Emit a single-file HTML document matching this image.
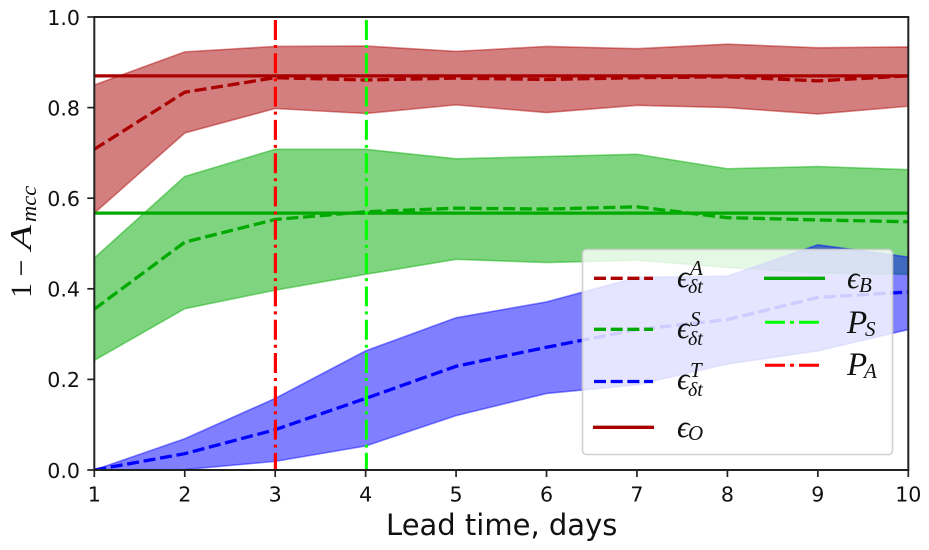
<!DOCTYPE html>
<html>
<head>
<meta charset="utf-8">
<style>
html,body{margin:0;padding:0;background:#fff;width:929px;height:550px;overflow:hidden}
svg{display:block}
text{font-family:"DejaVu Sans","Liberation Sans",sans-serif;fill:#111}
.m{font-family:"Liberation Serif","DejaVu Serif",serif;font-style:italic}
</style>
</head>
<body>
<svg id="chart" width="929" height="550" viewBox="0 0 929 550" xmlns="http://www.w3.org/2000/svg"></svg>
<script>
var leadDays = [1,2,3,4,5,6,7,8,9,10];
var yTicks = [0,0.2,0.4,0.6,0.8,1];
var yTickLabels = ['0.0','0.2','0.4','0.6','0.8','1.0'];
var meanA = [0.708,0.834,0.866,0.861,0.865,0.862,0.866,0.868,0.859,0.870];
var upperA = [0.850,0.923,0.935,0.936,0.924,0.935,0.930,0.940,0.932,0.934];
var lowerA = [0.567,0.744,0.798,0.787,0.806,0.789,0.805,0.800,0.786,0.803];
var meanS = [0.355,0.503,0.553,0.570,0.578,0.576,0.581,0.557,0.552,0.548];
var upperS = [0.468,0.648,0.708,0.708,0.687,0.692,0.697,0.665,0.670,0.663];
var lowerS = [0.242,0.356,0.397,0.432,0.465,0.458,0.463,0.447,0.435,0.432];
var meanT = [0.000,0.036,0.089,0.158,0.229,0.271,0.310,0.332,0.381,0.393];
var upperT = [0.000,0.069,0.158,0.263,0.336,0.371,0.425,0.428,0.497,0.470];
var lowerT = [0.000,0.001,0.019,0.053,0.120,0.169,0.188,0.234,0.263,0.310];
var baselineO = 0.870;
var baselineB = 0.567;
var persistS = 4;
var persistA = 3;
var vlineTop = 0.9934;

var svg = document.getElementById('chart');
var NS = 'http://www.w3.org/2000/svg';
var L = 94.3, R = 908.3, T = 17, B = 470;
function xs(v){ return L + (v - 1) / 9 * (R - L); }
function ys(v){ return B - v * (B - T); }
function mk(tag, attrs, parent){
  var e = document.createElementNS(NS, tag);
  for (var k in attrs) e.setAttribute(k, attrs[k]);
  (parent || svg).appendChild(e);
  return e;
}
function linePts(vals){
  return vals.map(function(v, i){ return xs(leadDays[i]).toFixed(2) + ',' + ys(v).toFixed(2); }).join(' ');
}
function bandPts(up, lo){
  var a = up.map(function(v, i){ return xs(leadDays[i]).toFixed(2) + ',' + ys(v).toFixed(2); });
  var b = lo.map(function(v, i){ return xs(leadDays[i]).toFixed(2) + ',' + ys(v).toFixed(2); }).reverse();
  return a.concat(b).join(' ');
}
var el;

var defs = mk('defs', {});
var cp = mk('clipPath', {id: 'plot-clip'}, defs);
mk('rect', {x: L, y: T, width: R - L, height: B - T}, cp);
var plot = mk('g', {'clip-path': 'url(#plot-clip)'});



// bands
el = mk('polygon', {points: bandPts(upperA, lowerA), fill: '#aa0000', 'fill-opacity': 0.5, stroke: '#aa0000', 'stroke-opacity': 0.45, 'stroke-width': 1.6}, plot);


el = mk('polygon', {points: bandPts(upperS, lowerS), fill: '#00aa00', 'fill-opacity': 0.5, stroke: '#00aa00', 'stroke-opacity': 0.45, 'stroke-width': 1.6}, plot);


el = mk('polygon', {points: bandPts(upperT, lowerT), fill: '#0000ff', 'fill-opacity': 0.5, stroke: '#0000ff', 'stroke-opacity': 0.45, 'stroke-width': 1.6}, plot);



// mean lines
el = mk('polyline', {points: linePts(meanA), fill: 'none', stroke: '#aa0000', 'stroke-width': 3.3, 'stroke-dasharray': '12 4.7'}, plot);


el = mk('polyline', {points: linePts(meanS), fill: 'none', stroke: '#00aa00', 'stroke-width': 3.3, 'stroke-dasharray': '12 4.7'}, plot);


el = mk('polyline', {points: linePts(meanT), fill: 'none', stroke: '#0000ff', 'stroke-width': 3.3, 'stroke-dasharray': '12 4.7'}, plot);



// baselines
el = mk('line', {x1: L, x2: R, y1: ys(baselineO), y2: ys(baselineO), stroke: '#aa0000', 'stroke-width': 3.3}, plot);


el = mk('line', {x1: L, x2: R, y1: ys(baselineB), y2: ys(baselineB), stroke: '#00aa00', 'stroke-width': 3.3}, plot);



// vertical markers
var vs = Math.round(xs(persistS)) + 0.4;
var va = Math.round(xs(persistA)) + 0.4;
el = mk('line', {x1: vs, x2: vs, y1: ys(vlineTop), y2: ys(0), stroke: '#00ff00', 'stroke-width': 3, 'stroke-dasharray': '20 5 3 5.3'}, plot);


el = mk('line', {x1: va, x2: va, y1: ys(vlineTop), y2: ys(0), stroke: '#ff0000', 'stroke-width': 3.2, 'stroke-dasharray': '20 5 3 5.3'}, plot);



// axes frame
el = mk('rect', {x: L, y: T, width: R - L, height: B - T, fill: 'none', stroke: '#222', 'stroke-width': 2});



// ticks
leadDays.forEach(function(d){
  var t = mk('line', {x1: xs(d), x2: xs(d), y1: B, y2: B + 7, stroke: '#222', 'stroke-width': 1.7});
  
  
  var l = mk('text', {x: xs(d), y: B + 31.5, 'text-anchor': 'middle', 'font-size': 20.6});
  l.textContent = String(d);
  
  
});
yTicks.forEach(function(v, i){
  var t = mk('line', {x1: L - 7, x2: L, y1: ys(v), y2: ys(v), stroke: '#222', 'stroke-width': 1.7});
  
  
  var l = mk('text', {x: L - 14.3, y: ys(v) + 7.8, 'text-anchor': 'end', 'font-size': 20.6});
  l.textContent = yTickLabels[i];
  
  
});

// axis titles
el = mk('text', {x: 501.7, y: 535, 'text-anchor': 'middle', 'font-size': 29});
el.textContent = 'Lead time, days';



var yTitle = mk('g', {transform: 'translate(31,298) rotate(-90)'});


var s0 = mk('text', {x: 0, y: 0, 'font-size': 30, class: 'm', 'font-style': 'normal', style: 'font-style:normal'}, yTitle); s0.textContent = '1 \u2212';
s0.setAttribute('word-spacing', '-1');
var s2 = mk('text', {transform: 'translate(48,0) scale(1.32,1)', 'font-size': 31, class: 'm'}, yTitle); s2.textContent = 'A';
var s3 = mk('text', {x: 76, y: 5, 'font-size': 22.5, class: 'm'}, yTitle); s3.textContent = 'mcc';

// legend
var legend = mk('g', {});


el = mk('rect', {x: 582.5, y: 249.5, width: 310, height: 205, rx: 4, fill: '#fff', 'fill-opacity': 0.8, stroke: '#ccc', 'stroke-opacity': 0.9, 'stroke-width': 1.6}, legend);



function handle(x1, x2, y, color, w, dash, name){
  var a = {x1: x1, x2: x2, y1: y, y2: y, stroke: color, 'stroke-width': w};
  if (dash) a['stroke-dasharray'] = dash;
  var h = mk('line', a, legend);
  
  
}
function mathLabel(x, y, base, size, sub, subDx, subDy, subSize, sup, name){
  var g = mk('g', {}, legend);
  
  
  var b = mk('text', {x: x, y: y, class: 'm', 'font-size': size}, g);
  b.textContent = base;
  var sb = mk('text', {x: x + subDx, y: y + subDy, class: 'm', 'font-size': subSize}, g);
  sb.textContent = sub;
  if (sup) {
    var sp = mk('text', {x: x + subDx + 2, y: y - 12, class: 'm', 'font-size': 21}, g);
    sp.textContent = sup;
  }
}
handle(594, 653, 278.3, '#aa0000', 3.3, '12 4.7', 'legend-handle-epsilon-a');
handle(594, 653, 329.3, '#00aa00', 3.3, '12 4.7', 'legend-handle-epsilon-s');
handle(594, 653, 381.5, '#0000ff', 3.3, '12 4.7', 'legend-handle-epsilon-t');
handle(593, 654, 427.3, '#aa0000', 3.3, '', 'legend-handle-epsilon-o');
handle(764, 825, 278.3, '#00aa00', 3.3, '', 'legend-handle-epsilon-b');
handle(765, 819, 322.3, '#00ff00', 3, '20 5 4 5', 'legend-handle-p-s');
handle(765, 819, 365.3, '#ff0000', 3, '20 5 4 5', 'legend-handle-p-a');
mathLabel(677, 287, '\u03F5', 31, '\u03B4t', 11, 6, 20, 'A', 'legend-label-epsilon-a');
mathLabel(677, 338, '\u03F5', 31, '\u03B4t', 11, 7, 20, 'S', 'legend-label-epsilon-s');
mathLabel(677, 389, '\u03F5', 31, '\u03B4t', 11, 7, 20, 'T', 'legend-label-epsilon-t');
mathLabel(677, 437, '\u03F5', 31, 'O', 11, 3, 21, '', 'legend-label-epsilon-o');
mathLabel(847, 288, '\u03F5', 31, 'B', 12, 4, 21, '', 'legend-label-epsilon-b');
mathLabel(847, 333, 'P', 33, 'S', 18, 3, 21, '', 'legend-label-p-s');
mathLabel(847, 375, 'P', 33, 'A', 17, 3, 21, '', 'legend-label-p-a');
</script>
</body>
</html>
